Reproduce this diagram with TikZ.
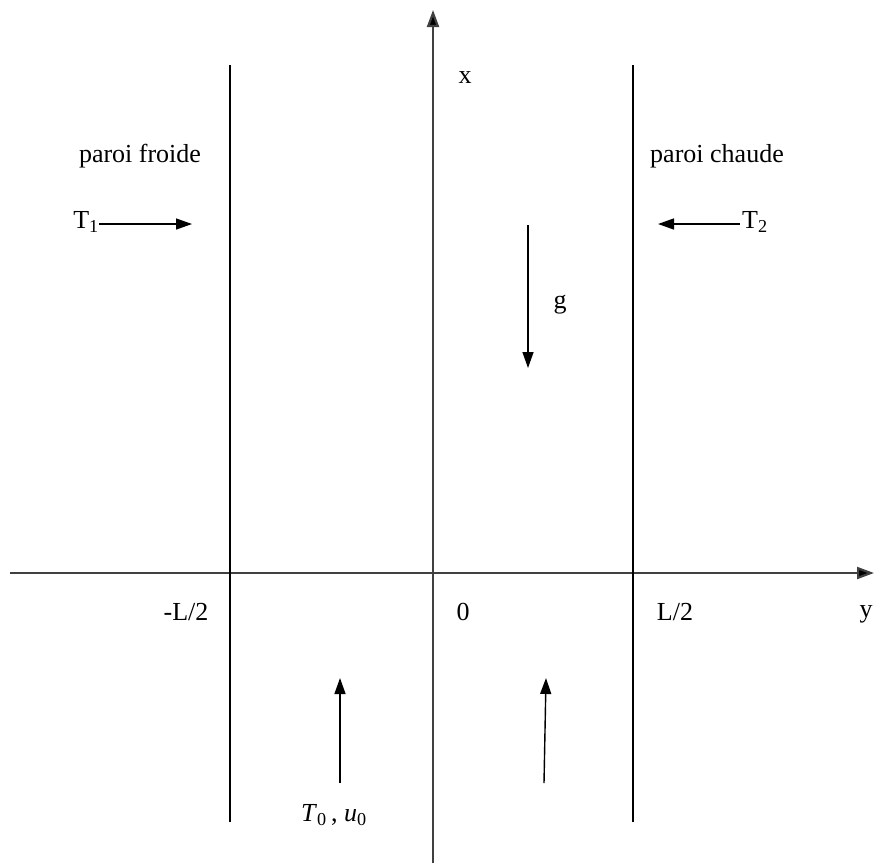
\documentclass[tikz,border=0pt]{standalone}
\usepackage{fontspec}
\setmainfont{Liberation Serif}
\usetikzlibrary{arrows.meta}
\begin{document}
\begin{tikzpicture}[x=1pt,y=-1pt,
  lbl/.style={font=\fontsize{26}{30}\selectfont, inner sep=0pt},
  axis/.style={line width=2.2pt, draw=black!75, -{Triangle[length=17pt,width=12pt,fill=black]}},
  wall/.style={line width=1.6pt},
  arr/.style={line width=1.4pt, -{Triangle[length=16pt,width=11pt]}}]
\useasboundingbox (0,0) rectangle (874,863);
% coordinates
\coordinate (xb) at (433,863);
\coordinate (xt) at (433,10);
\coordinate (yl) at (10,573);
\coordinate (yr) at (874,573);
\coordinate (lwt) at (230,65);
\coordinate (lwb) at (230,822);
\coordinate (rwt) at (633,65);
\coordinate (rwb) at (633,822);
% axes and walls
\draw[axis] (xb) -- (xt);
\draw[axis] (yl) -- (yr);
\draw[wall] (lwt) -- (lwb);
\draw[wall] (rwt) -- (rwb);
% labels
\node[lbl] (xl) at (465,78) {x};
\node[lbl] (pf) at (140,156) {paroi froide};
\node[lbl] (pc) at (717,156) {paroi chaude};
\node[lbl, anchor=east] (T1) at (99,222) {T\textsubscript{1}};
\node[lbl, anchor=west] (T2) at (742,222) {T\textsubscript{2}};
\coordinate (t1e) at (192,224);
\coordinate (t2e) at (658,224);
\draw[arr] (T1.east) ++(0,2) -- (t1e);
\draw[arr] (T2.west) ++(-2,2) -- (t2e);
% gravity
\coordinate (gs) at (528,225);
\coordinate (ge) at (528,368);
\draw[arr] (gs) -- (ge);
\node[lbl] (gl) at (560,305) {g};
% axis labels
\node[lbl] (mL) at (186,612) {-L/2};
\node[lbl] (zero) at (463,612) {0};
\node[lbl] (pL) at (675,612) {L/2};
\node[lbl] (yl2) at (866,614) {y};
% inflow arrows
\coordinate (a1s) at (340,783);
\coordinate (a1e) at (340,678);
\coordinate (a2s) at (544,783);
\coordinate (a2e) at (546,678);
\draw[arr] (a1s) -- (a1e);
\draw[arr] (a2s) -- (a2e);
\node[lbl] (T0) at (334,815) {\textit{T}\textsubscript{0}\,, \textit{u}\textsubscript{0}};
\end{tikzpicture}
\end{document}
